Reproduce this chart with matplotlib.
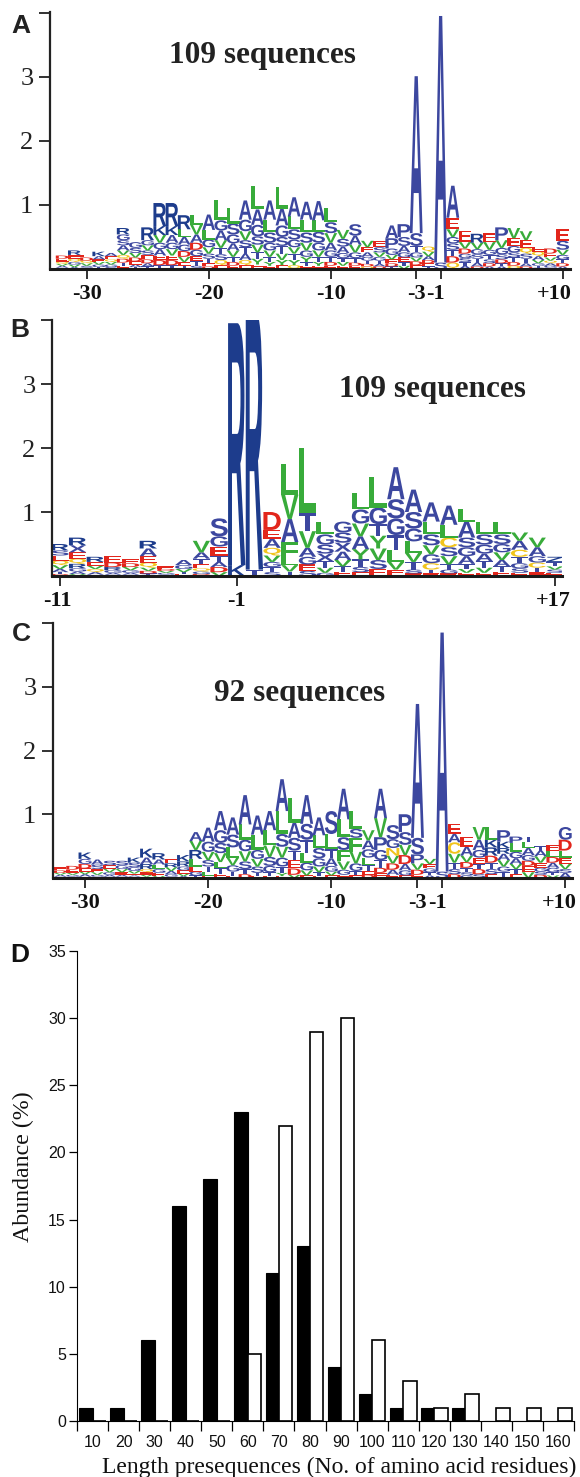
import matplotlib
matplotlib.use('Agg')
import numpy as np
import matplotlib.pyplot as plt
from matplotlib.patches import PathPatch
from matplotlib.textpath import TextPath
from matplotlib.transforms import Affine2D, ScaledTranslation
from matplotlib.font_manager import FontProperties

W, H = 580, 1477

# Panel A: residues at each position, listed top of stack to bottom
a_pos = [-32, -31, -30, -29, -28, -27, -26, -25, -24, -23, -22, -21, -20, -19, -18, -17, -16, -15, -14, -13, -12,
         -11, -10, -9, -8, -7, -6, -5, -4, -3, -2, -1, 0, 1, 2, 3, 4, 5, 6, 7, 8, 9]
a_letters = ["DEQVAT", "REQGVA", "EDQVSA", "KAEVGT", "AEQVGS", "RGSAVQDTE", "GSVDEAT", "RGVSEDAT", "RKVGAEDT",
             "RKAGVEDT", "RLAGDVET", "LVADGETS", "ALGVSTED", "LGAVTSQE", "LSGAVTDE", "AGVSTAQE", "LAGSVTYE",
             "ALSGVTYE", "LAGSTVYE", "ALSGVTYQ", "ALSVGYTE", "ALSGVTYE", "LSVAGTDE", "VSAGTVE", "SAVGTDE",
             "VEAGTDQ", "ESVGTAD", "APGVEDT", "PSAGETV", "ASTGVDE", "QVADET", "AS", "AEVGSTDQ", "EVDGSTA",
             "ERVGSTAD", "LEVGTSDA", "EPVGSDTA", "AVEGSTDQ", "GVEQSTAD", "EQAVGTS", "DEVQAGT", "RESVGTDA"]
a_heights = [[.05, .05, .03, .03, .03, .02], [.07, .06, .05, .04, .04, .03], [.04, .05, .04, .04, .03, .02],
             [.07, .05, .04, .04, .04, .03], [.05, .05, .04, .04, .04, .03],
             [.1, .09, .08, .08, .07, .06, .06, .05, .05], [.09, .08, .07, .06, .05, .04, .03],
             [.2, .08, .08, .07, .07, .06, .05, .04], [.36, .14, .12, .1, .1, .07, .08, .06],
             [.36, .14, .12, .1, .1, .07, .08, .06], [.22, .12, .12, .1, .09, .08, .06, .05],
             [.16, .15, .13, .11, .1, .08, .07, .05], [.24, .15, .12, .1, .08, .07, .05, .04],
             [.32, .16, .15, .12, .1, .09, .08, .06], [.24, .17, .14, .11, .1, .08, .06, .05],
             [.3, .18, .14, .11, .1, .1, .08, .06], [.36, .24, .18, .13, .12, .1, .09, .07],
             [.3, .2, .16, .12, .1, .08, .06, .05], [.34, .26, .18, .14, .12, .1, .08, .06],
             [.3, .2, .16, .12, .1, .1, .08, .06], [.28, .2, .16, .12, .1, .08, .06, .05],
             [.3, .18, .17, .12, .1, .08, .06, .05], [.22, .17, .15, .12, .1, .08, .06, .05],
             [.14, .12, .1, .08, .06, .06, .05], [.18, .14, .12, .09, .07, .05, .05],
             [.1, .08, .07, .06, .05, .04, .04], [.1, .08, .07, .06, .05, .04, .04],
             [.2, .16, .1, .07, .06, .05, .04], [.2, .14, .1, .08, .07, .06, .05], [2.45, .2, .1, .08, .06, .06, .06],
             [.08, .07, .06, .05, .05, .04], [3.85, .1], [.5, .18, .12, .1, .1, .1, .1, .1], [.18, .1, .08, .07, .06, .06, .05],
             [.14, .1, .08, .07, .06, .06, .04], [.14, .12, .08, .07, .06, .05, .04], [.2, .12, .1, .08, .06, .05, .04],
             [.16, .12, .1, .08, .07, .06, .05], [.14, .12, .09, .08, .07, .05, .04], [.08, .07, .06, .05, .04, .03, .02],
             [.08, .06, .05, .04, .04, .03, .02], [.18, .14, .08, .07, .06, .05, .04]]

# Panel B
b_pos = list(range(-11, 18))
b_letters = ["RSEQVATD", "RXEQRGAV", "REVQAT", "EDRGAT", "EDVGAT", "RAEQVDTG", "EDVGA", "AGVTED", "VATEQGD",
             "SGETADV", "RK", "RT", "DEAQVGTS", "LVAFLVT", "LTVAGES", "LGSXTVG", "GSXAVTE", "LGVAYTSE",
             "ALGTYVSE", "ASGTLVE", "ASGLVTSE", "ALSVGCTE", "ALCSVTGE", "LASGATVE", "LSGATVE", "LSGVATE",
             "LVACTGSE", "VAGCTES", "ZTVSEG"]
b_heights = [[.1, .08, .08, .07, .06, .05, .03, .03], [.12, .11, .1, .08, .07, .05, .04, .03],
             [.08, .06, .05, .05, .04, .02], [.1, .07, .05, .04, .03, .02], [.06, .06, .05, .04, .03, .02],
             [.12, .12, .1, .08, .05, .04, .02, .02], [.04, .03, .03, .03, .02],
             [.15, .08, .06, .05, .03, .02, .01], [.18, .1, .08, .07, .05, .04, .03],
             [.28, .16, .14, .1, .08, .08, .06], [3.78, .17], [4.05, .1],
             [.28, .14, .14, .12, .1, .08, .08, .06], [.48, .38, .36, .26, .1, .1, .07],
             [1.02, .28, .26, .14, .12, .1, .08], [.2, .16, .14, .12, .1, .08, .05],
             [.17, .16, .14, .13, .1, .08, .07], [.26, .22, .2, .2, .16, .12, .08, .06],
             [.48, .26, .18, .2, .18, .14, .11], [.5, .3, .26, .24, .18, .12, .1],
             [.35, .26, .2, .18, .14, .12, .06, .04], [.3, .2, .17, .14, .14, .1, .06, .04],
             [.3, .2, .15, .14, .13, .08, .06, .04], [.2, .25, .15, .14, .12, .08, .06, .05],
             [.2, .16, .14, .12, .1, .08, .05], [.2, .15, .13, .12, .1, .08, .07],
             [.13, .14, .11, .1, .08, .07, .05], [.15, .14, .1, .08, .07, .04, .02], [.08, .07, .05, .05, .03, .02]]

# Panel C
c_pos = [-32, -31, -30, -29, -28, -27, -26, -25, -24, -23, -22, -21, -20, -19, -18, -17, -16, -15, -14, -13, -12,
         -11, -10, -9, -8, -7, -6, -5, -4, -3, -2, -1, 0, 1, 2, 3, 4, 5, 6, 7, 8, 9]
c_letters = ["EDVAT", "DEVGA", "KGDEVAT", "ASEVGT", "SEVGAT", "SGVEAT", "KSGVEAT", "KARQEVT", "RALGEV", "ERVAGT",
             "KRGEVA", "AVRLEGT", "AGVSTLE", "AGSVLTE", "ASLVGTE", "ALGVSTD", "ALGVSTE", "ALVSGTE", "ALSVGTYE",
             "LASTEDV", "ASTLGVE", "ALSGVTE", "SLTAGVE", "ALSFVGE", "LSFVGTE", "VAGLTED", "AVPGTDE", "SGNVDAE",
             "PSVDAGE", "ASPVDE", "VEGTA", "AS", "EACVTSD", "EAVDTSG", "VAGETDS", "LKRDTSE", "PKRAVGT", "PLGAVTE",
             "TLAGDEV", "TAVEGSD", "ELDAGTV", "GDLEVSA"]
c_heights = [[.05, .04, .03, .03, .02], [.06, .05, .03, .03, .02], [.1, .08, .07, .05, .04, .04, .02],
             [.08, .07, .05, .04, .03, .02], [.07, .06, .05, .04, .03, .02], [.07, .06, .05, .04, .03, .02],
             [.08, .07, .06, .04, .03, .02, .02], [.14, .1, .08, .05, .04, .03, .02], [.1, .08, .07, .06, .05, .03],
             [.07, .06, .06, .05, .04, .02], [.1, .08, .06, .05, .04, .03], [.14, .14, .14, .12, .08, .06, .04],
             [.22, .16, .13, .1, .09, .06, .03], [.3, .2, .16, .14, .1, .08, .07], [.27, .2, .16, .12, .1, .07, .03],
             [.46, .24, .18, .16, .12, .08, .06], [.3, .24, .14, .12, .1, .05, .03], [.3, .24, .18, .14, .1, .06, .03],
             [.5, .36, .2, .17, .14, .1, .05, .03], [.38, .24, .2, .15, .13, .1, .05], [.45, .25, .2, .16, .12, .08, .04],
             [.28, .2, .16, .13, .09, .06, .03], [.36, .24, .14, .12, .09, .06, .04], [.48, .28, .2, .18, .13, .08, .05],
             [.28, .14, .22, .18, .12, .07, .04], [.16, .14, .13, .12, .09, .06, .05], [.46, .3, .2, .16, .12, .08, .08],
             [.22, .14, .12, .12, .1, .08, .05], [.28, .2, .16, .14, .1, .08, .04], [2.1, .26, .14, .1, .08, .05],
             [.08, .07, .06, .05, .04], [3.75, .1], [.16, .13, .18, .14, .1, .08, .06], [.16, .14, .1, .09, .07, .05, .04],
             [.2, .16, .12, .1, .08, .08, .06], [.2, .12, .13, .11, .1, .08, .06], [.18, .1, .09, .1, .1, .08, .1],
             [.1, .14, .1, .09, .08, .08, .06], [.08, .1, .11, .09, .08, .1, .09], [.07, .09, .1, .08, .06, .05, .05],
             [.09, .1, .09, .08, .07, .05, .04], [.2, .17, .11, .1, .08, .06, .08]]

# Panel D
bin_edges = [0, 10, 20, 30, 40, 50, 60, 70, 80, 90, 100, 110, 120, 130, 140, 150, 160]
bin_labels = ['10', '20', '30', '40', '50', '60', '70', '80', '90', '100', '110', '120', '130', '140', '150', '160']
black_vals = [1, 1, 6, 16, 18, 23, 11, 13, 4, 2, 1, 1, 1, 0, 0, 0]
white_vals = [0, 0, 0, 0, 0, 5, 22, 29, 30, 6, 3, 1, 2, 1, 1, 1]

COLORS = {}
for c in 'ASGTPX':
    COLORS[c] = '#3c479f'
for c in 'RKHZ':
    COLORS[c] = '#1d3c8c'
for c in 'LVIFMWY':
    COLORS[c] = '#38ab3a'
for c in 'DE':
    COLORS[c] = '#e2261c'
for c in 'NQC':
    COLORS[c] = '#f1c41c'

logo_font = FontProperties(family='Liberation Sans', weight='bold')
serif = 'Liberation Serif'
sans = 'Liberation Sans'

fig = plt.figure(figsize=(W / 100, H / 100), dpi=100)


def px_axes(left, right, top, bottom):
    return fig.add_axes([left / W, 1 - bottom / H, (right - left) / W, (bottom - top) / H])


def draw_logo(ax, positions, letters, heights, width):
    for p, lets, hs in zip(positions, letters, heights):
        y = 0
        for ch, h in zip(lets[::-1], hs[::-1]):
            tp = TextPath((0, 0), ch, size=1, prop=logo_font)
            box = tp.get_extents()
            tr = (Affine2D().translate(-box.x0, -box.y0).scale(width / box.width, h / box.height)
                  .translate(p - width / 2, y))
            ax.add_patch(PathPatch(tp, transform=tr + ax.transData, fc=COLORS[ch], ec='none', lw=0))
            y += h


def logo_panel(box, xlim, ylim, positions, letters, heights, ticks, ticklabels, width=1.05, shifts=None):
    ax = px_axes(*box)
    draw_logo(ax, positions, letters, heights, width)
    ax.set_xlim(*xlim)
    ax.set_ylim(*ylim)
    for s in ['top', 'right']:
        ax.spines[s].set_visible(False)
    ax.spines['left'].set_linewidth(1.6)
    ax.spines['left'].set_color('#222222')
    ax.spines['bottom'].set_linewidth(2.2)
    ax.spines['bottom'].set_color('#1a1a1a')
    ax.set_yticks([1, 2, 3, 4])
    ax.set_yticklabels(['1', '2', '3', ''], family=serif, fontsize=19, color='#222222')
    ax.set_xticks(ticks)
    ax.set_xticklabels(ticklabels, family=serif, fontsize=16, fontweight='bold', color='#111111')
    ax.tick_params(axis='y', length=8, width=1.3, pad=4, color='#222222')
    ax.tick_params(axis='x', length=7, width=1.3, pad=4, color='#222222')
    # the crowded labels sit a little left of their ticks in the figure
    if shifts:
        for lab, dx in zip(ax.get_xticklabels(), shifts):
            lab.set_transform(lab.get_transform() + ScaledTranslation(dx / 100, 0, fig.dpi_scale_trans))
    return ax


title_size = 22.5
# A
ax = logo_panel((50, 570, 11.5, 269), (-33.0, 9.6), (0, 4.02), a_pos, a_letters, a_heights,
                [-30, -20, -10, -3, -1, 9], ['-30', '-20', '-10', '-3', '-1', '+10'],
                shifts=[0, 0, 0, 0, -5, -8])
fig.text(262 / W, 1 - 56 / H, '109 sequences', family=serif, fontsize=title_size, fontweight='bold', ha='center', va='center', color='#222222')
fig.text(21 / W, 1 - 26 / H, 'A', family=sans, fontsize=19, fontweight='bold', ha='center', va='center', color='#222222')

# B
ax = logo_panel((52, 562, 320, 576), (-11.45, 17.4), (0, 3.98), b_pos, b_letters, b_heights,
                [-11, -1, 17], ['-11', '-1', '+17'], width=0.98, shifts=[-3, 0, -2])
fig.text(432 / W, 1 - 389 / H, '109 sequences', family=serif, fontsize=title_size, fontweight='bold', ha='center', va='center', color='#222222')
fig.text(20 / W, 1 - 330 / H, 'B', family=sans, fontsize=19, fontweight='bold', ha='center', va='center', color='#222222')

# C
ax = logo_panel((53, 572, 623, 878), (-32.6, 9.55), (0, 3.98), c_pos, c_letters, c_heights,
                [-30, -20, -10, -3, -1, 9], ['-30', '-20', '-10', '-3', '-1', '+10'],
                shifts=[0, 0, 0, 0, -5, -6])
fig.text(300 / W, 1 - 693 / H, '92 sequences', family=serif, fontsize=title_size, fontweight='bold', ha='center', va='center', color='#222222')
fig.text(21 / W, 1 - 634 / H, 'C', family=sans, fontsize=19, fontweight='bold', ha='center', va='center', color='#222222')

# D
ax = px_axes(77, 574, 951, 1421)
centers = np.array(bin_edges[:-1]) + 5
bw = 4.3
ax.bar(centers - bw / 2, black_vals, bw, color='black', edgecolor='black', linewidth=0.8)
ax.bar(centers + bw / 2, white_vals, bw, color='white', edgecolor='black', linewidth=1.2)
ax.set_xlim(0, 160)
ax.set_ylim(0, 35)
for s in ['top', 'right']:
    ax.spines[s].set_visible(False)
ax.set_yticks(np.arange(0, 36, 5))
ax.set_yticklabels([str(v) for v in range(0, 36, 5)], family=sans, fontsize=11.5, color='#111111')
ax.tick_params(axis='y', length=6, width=0.9, pad=2)
ax.set_xticks(bin_edges)
ax.set_xticklabels([])
ax.set_xticks(centers, minor=True)
ax.set_xticklabels(bin_labels, minor=True, family=sans, fontsize=11.5, color='#111111')
ax.tick_params(axis='x', which='major', length=7, width=0.9)
ax.tick_params(axis='x', which='minor', length=0, pad=10)
fig.text(339 / W, 1 - 1467 / H, 'Length presequences (No. of amino acid residues)', family=serif, fontsize=17, ha='center', va='center', color='#111111')
fig.text(23 / W, 1 - 1167 / H, 'Abundance (%)', family=serif, fontsize=17.2, rotation=90, ha='center', va='center', color='#111111')
fig.text(20 / W, 1 - 955 / H, 'D', family=sans, fontsize=19, fontweight='bold', ha='center', va='center', color='#111111')

fig.savefig('out.png', dpi=100)
